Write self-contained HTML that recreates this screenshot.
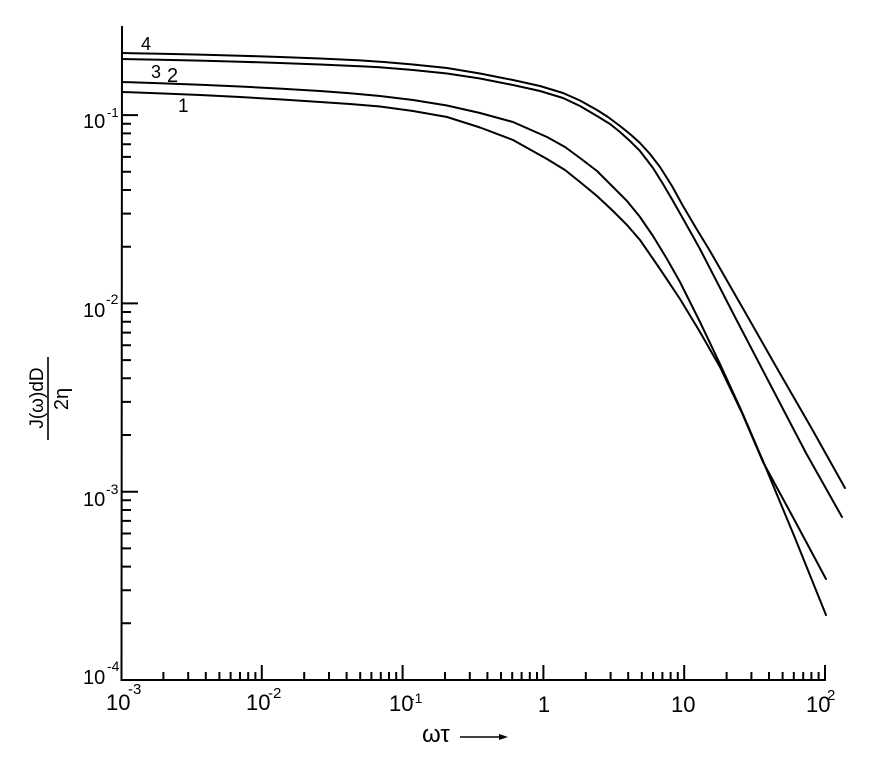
<!DOCTYPE html>
<html><head><meta charset="utf-8"><style>
html,body{margin:0;padding:0;background:#fff;}
svg{display:block;}
text{font-family:"Liberation Sans",sans-serif;fill:#000;}
</style></head><body>
<svg width="879" height="763" viewBox="0 0 879 763" xmlns="http://www.w3.org/2000/svg">
<rect width="879" height="763" fill="#fff"/>
<g stroke="#000" stroke-width="2" fill="none" stroke-linecap="butt">
<line x1="122" y1="26" x2="121.5" y2="681"/>
<line x1="121" y1="680" x2="826" y2="680"/>
<path d="M261.8 680V665M402.6 680V665M543.4 680V665M684.2 680V665M825 680V665"/>
<path d="M163.4 680v-8M188.2 680v-8M205.8 680v-8M219.4 680v-8M230.6 680v-8M240 680v-8M248.2 680v-8M255.4 680v-8
M304.2 680v-8M329 680v-8M346.6 680v-8M360.2 680v-8M371.4 680v-8M380.8 680v-8M389 680v-8M396.2 680v-8
M445 680v-8M469.8 680v-8M487.4 680v-8M501 680v-8M512.2 680v-8M521.6 680v-8M529.8 680v-8M537 680v-8
M585.8 680v-8M610.6 680v-8M628.2 680v-8M641.8 680v-8M653 680v-8M662.4 680v-8M670.6 680v-8M677.8 680v-8
M726.6 680v-8M751.4 680v-8M769 680v-8M782.6 680v-8M793.8 680v-8M803.2 680v-8M811.4 680v-8M818.6 680v-8"/>
<path d="M122 115.1h16M122 303.4h16M122 491.7h16"/>
<path d="M122 623.3h9M122 590.2h9M122 566.6h9M122 548.4h9M122 533.5h9M122 520.9h9M122 510h9M122 500.3h9
M122 435h9M122 401.9h9M122 378.3h9M122 360.1h9M122 345.2h9M122 332.6h9M122 321.7h9M122 312h9
M122 246.7h9M122 213.6h9M122 190h9M122 171.8h9M122 156.9h9M122 144.3h9M122 133.4h9M122 123.7h9"/>
</g>
<g stroke="#000" stroke-width="2" fill="none" stroke-linejoin="round" stroke-linecap="round">
<polyline points="122,53 160,53.7 200,54.6 240,55.7 280,57 320,58.5 360,60.4 380,61.7 413,64.5 447,68 480,73.5 513,80 540,86 563,93 580,100.5 597,110 608,117 620,126 630,134 640,143 650,154 660,167 672,186 683,206 696,228 710,251 745,312 778,370 812,429 845,488"/>
<polyline points="122,59 160,59.7 200,60.6 240,61.7 280,63 320,64.5 360,66.2 380,67.3 413,70 447,73.5 480,78.5 513,85 540,91 563,98 580,106 597,116 610,124 620,132 630,141 640,151 653,168 663,184 673,201 686,224 700,249 735,317 771,386 806,453 842,517"/>
<polyline points="122,82 160,83.2 200,84.7 240,86.5 280,88.6 320,91 350,93.3 380,96 413,100 447,105.5 480,113 513,122 547,137 565,147 580,158 597,171 613,187 627,201 640,217 653,236 667,259 680,282 700,322 720,364 742,412 763,461 795,538 826,615"/>
<polyline points="122,92 160,93.4 200,95 240,97 280,99.4 320,102 350,104 380,106.5 413,111 447,117 480,127.5 513,140 547,159 565,170 580,182 597,196 613,211 627,225 640,240 660,269 680,299 700,332 720,367 742,413 763,462 795,521 826,579"/>
</g>
<text x="141" y="50" font-size="18">4</text>
<text x="151" y="78" font-size="18">3</text>
<text x="167" y="82" font-size="20">2</text>
<text x="178" y="112" font-size="19">1</text>
<text x="83" y="128" font-size="20">10</text><text x="107" y="117" font-size="13">-1</text>
<text x="83" y="317" font-size="20">10</text><text x="106" y="304" font-size="14">-2</text>
<text x="83" y="506" font-size="20">10</text><text x="106" y="494" font-size="14">-3</text>
<text x="83" y="684" font-size="20">10</text><text x="107" y="671" font-size="14">-4</text>
<text x="106" y="710" font-size="22">10</text><text x="128" y="694" font-size="15">-3</text>
<text x="246" y="710" font-size="22">10</text><text x="268" y="698" font-size="15">-2</text>
<text x="389" y="711" font-size="22">10</text><text x="410" y="703" font-size="14">-1</text>
<text x="544" y="712" font-size="22" text-anchor="middle">1</text>
<text x="671" y="712" font-size="22">10</text>
<text x="806" y="712" font-size="22">10</text><text x="827" y="700" font-size="15">2</text>
<text x="422" y="742" font-size="24">ωτ</text>
<line x1="460" y1="737" x2="500" y2="737" stroke="#000" stroke-width="1.6"/>
<polygon points="499,734 508,737 499,740" fill="#000"/>
<text transform="translate(43,398) rotate(-90)" font-size="19" text-anchor="middle">J(ω)dD</text>
<line x1="48" y1="357" x2="48" y2="440" stroke="#000" stroke-width="1.6"/>
<text transform="translate(68,399) rotate(-90)" font-size="20" text-anchor="middle">2η</text>
</svg>
</body></html>
